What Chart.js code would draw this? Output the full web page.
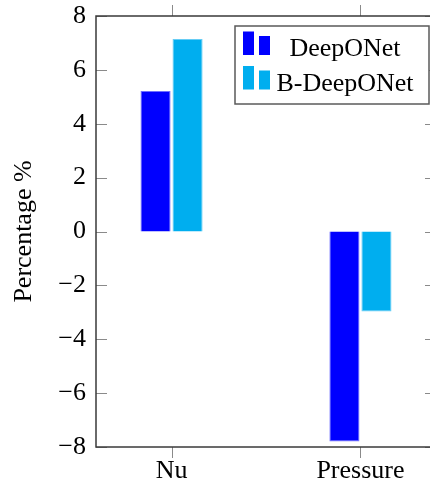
<!DOCTYPE html>
<html>
<head>
<meta charset="utf-8">
<script src="https://cdn.jsdelivr.net/npm/chart.js@4/dist/chart.umd.min.js"></script>
<style>
  html, body { margin: 0; padding: 0; background: #fff; }
  #wrap { width: 430px; height: 490px; overflow: hidden; }
</style>
</head>
<body>
<div id="wrap"><canvas id="chart" width="440" height="490"></canvas></div>
<script>
// datos
const categories = ['Nu', 'Pressure'];
const seriesNames = ['DeepONet', 'B-DeepONet'];
const deeponet = [5.22, -7.8];
const bDeeponet = [7.15, -2.97];
const yTickValues = [-8, -6, -4, -2, 0, 2, 4, 6, 8];

const colors = ['#0000ff', '#00aeef'];
const borders = ['#6f6fff', '#66cdf5'];

Chart.defaults.font.family = "'Liberation Serif', 'Times New Roman', serif";
Chart.defaults.color = '#000';

// marco, marcas de ejes y leyenda al estilo pgfplots
const framePlugin = {
  id: 'frame',
  afterDatasetsDraw(chart) {
    const { ctx, chartArea: a, scales } = chart;
    ctx.save();
    ctx.strokeStyle = '#8a8a8a';
    ctx.lineWidth = 1;
    yTickValues.forEach(v => {
      const y = Math.round(scales.y.getPixelForValue(v)) + 0.5;
      ctx.beginPath();
      ctx.moveTo(a.left, y); ctx.lineTo(a.left + 11, y);
      ctx.moveTo(a.right, y); ctx.lineTo(a.right - 11, y);
      ctx.stroke();
    });
    categories.forEach((c, i) => {
      const x = Math.round(scales.x.getPixelForValue(i)) + 0.5;
      ctx.beginPath();
      ctx.moveTo(x, a.bottom); ctx.lineTo(x, a.bottom + 11);
      ctx.moveTo(x, a.top); ctx.lineTo(x, a.top - 11);
      ctx.stroke();
    });
    ctx.strokeStyle = '#3a3a3a';
    ctx.lineWidth = 1.5;
    ctx.strokeRect(a.left, a.top, a.right - a.left, a.bottom - a.top);

    // leyenda
    const lx = 235, ly = 26, lw = 194, lh = 78;
    ctx.fillStyle = '#fff';
    ctx.fillRect(lx, ly, lw, lh);
    ctx.strokeStyle = '#5a5a5a';
    ctx.lineWidth = 1.5;
    ctx.strokeRect(lx, ly, lw, lh);
    ctx.font = "26px 'Liberation Serif', 'Times New Roman', serif";
    ctx.textAlign = 'center';
    ctx.textBaseline = 'alphabetic';
    chart.data.datasets.forEach((ds, i) => {
      const base = ly + 29 + i * 34.5;
      ctx.fillStyle = ds.backgroundColor;
      ctx.fillRect(lx + 8, base - 23.5, 11, 23.5);
      ctx.fillRect(lx + 24, base - 19, 11, 19);
      ctx.fillStyle = '#000';
      ctx.fillText(ds.label, lx + 110, base + 1);
    });
    ctx.restore();
  }
};

const ctx = document.getElementById('chart').getContext('2d');
new Chart(ctx, {
  type: 'bar',
  data: {
    datasets: [{
      label: seriesNames[0],
      data: deeponet.map((v, i) => ({ x: i, y: v })),
      backgroundColor: colors[0],
      borderColor: borders[0],
      borderWidth: 1
    }, {
      label: seriesNames[1],
      data: bDeeponet.map((v, i) => ({ x: i, y: v })),
      backgroundColor: colors[1],
      borderColor: borders[1],
      borderWidth: 1
    }]
  },
  options: {
    responsive: false,
    animation: false,
    categoryPercentage: 0.339,
    barPercentage: 0.94,
    layout: { padding: { top: 16, right: 4, left: 0, bottom: 0 } },
    plugins: {
      legend: { display: false },
      tooltip: { enabled: false }
    },
    scales: {
      x: {
        type: 'linear',
        offset: false,
        min: -0.4,
        max: 1.4,
        grid: { display: false, drawTicks: false, offset: false },
        border: { display: false },
        afterBuildTicks: s => { s.ticks = categories.map((c, i) => ({ value: i })); },
        afterFit: s => { s.height = 43; s.paddingLeft = 0; s.paddingRight = 0; },
        ticks: {
          font: { size: 26 },
          padding: 9,
          maxRotation: 0,
          callback: v => categories[v]
        }
      },
      y: {
        min: -8,
        max: 8,
        grid: { display: false, drawTicks: false },
        border: { display: false },
        afterBuildTicks: s => { s.ticks = yTickValues.map(v => ({ value: v })); },
        afterFit: s => { s.width = 96; s.paddingTop = 0; s.paddingBottom = 0; },
        ticks: {
          font: { size: 26 },
          padding: 10,
          callback: v => String(v).replace('-', '\u2212')
        },
        title: {
          display: true,
          text: 'Percentage %',
          font: { size: 26 },
          padding: { top: 9, bottom: 0 }
        }
      }
    }
  },
  plugins: [framePlugin]
});
</script>
</body>
</html>
